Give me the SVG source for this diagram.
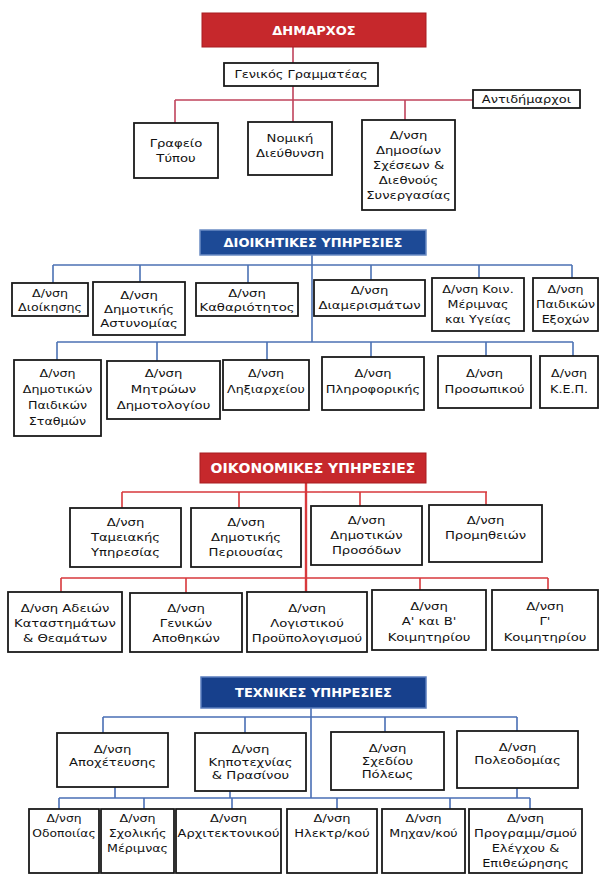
<svg xmlns="http://www.w3.org/2000/svg" width="600" height="874" viewBox="0 0 600 874">
<style>
.bg{fill:#ffffff}
.box{fill:#ffffff;stroke:#1a1a1a;stroke-width:1.8}
.t{font-family:"DejaVu Sans","Noto Sans",sans-serif;font-size:11px;fill:#111111;text-anchor:middle}
.tt{font-family:"DejaVu Sans","Noto Sans",sans-serif;font-size:13px;font-weight:bold;fill:#ffffff;text-anchor:middle}
.red{fill:#c6282c;stroke:#a81c20;stroke-width:1}
.navy{fill:#1d4a96;stroke:#6b8cc4;stroke-width:1.5}
.navy2{fill:#17408c;stroke:#5a7cbd;stroke-width:1.5}
.c{fill:none;stroke-width:1.6}
.c1{stroke:#c0445c}
.c2{stroke:#4c72b4}
.c3{stroke:#d8393c}
.c4{stroke:#4a6fb5}
</style>
<rect class="bg" x="0" y="0" width="600" height="874"/>

<g id="connectors">
  <g class="c c1">
    <path d="M293 47V63M293 86V122M175 100H473M175 100V123M405 100V120"/>
  </g>
  <g class="c c2">
    <path d="M312 255V342M53 265H572M53 265V283M140 265V282M248 265V283M371 265V280M479 265V278M572 265V278"/>
    <path d="M57 342H573M57 342V360M157 342V361M267 342V360M371 342V357M486 342V356M573 342V356"/>
  </g>
  <g class="c c3">
    <path d="M306 483V592" stroke-width="2.4"/>
    <path d="M122 492H487M122 492V508M239 492V508M360 492V506M486 492V505"/>
    <path d="M61 578H548M61 578V592M186 578V593M420 578V590M548 578V590"/>
  </g>
  <g class="c c4">
    <path d="M311 708V798M103 717H517M103 717V733M245 717V733M385 717V732M517 717V731"/>
    <path d="M115 787V798M230 791V798M517 788V798"/>
    <path d="M59 798H530M59 798V809M144 798V809M232 798V809M337 798V809M450 798V809M530 798V809"/>
  </g>
</g>

<!-- Section 1 -->
<g id="dimarxos"><rect class="red" x="202" y="13" width="224" height="34"/><text class="tt" x="314" y="35">ΔΗΜΑΡΧΟΣ</text></g>
<g id="gen-gram"><rect class="box" x="224" y="63" width="154" height="23"/><text class="t" transform="translate(301 0) scale(1.18 1)"><tspan x="0" y="78">Γενικός Γραμματέας</tspan></text></g>
<g id="antidimarxoi"><rect class="box" x="473" y="90" width="107" height="18"/><text class="t" transform="translate(526.5 0) scale(1.18 1)"><tspan x="0" y="103">Αντιδήμαρχοι</tspan></text></g>
<g id="grafeio-typou"><rect class="box" x="134" y="123" width="84" height="55"/><text class="t" transform="translate(176 0) scale(1.2 1)"><tspan x="0" y="147">Γραφείο</tspan><tspan x="0" y="162">Τύπου</tspan></text></g>
<g id="nomiki"><rect class="box" x="248" y="122" width="84" height="53"/><text class="t" transform="translate(290 0) scale(1.2 1)"><tspan x="0" y="142">Νομική</tspan><tspan x="0" y="157">Διεύθυνση</tspan></text></g>
<g id="dimosion-sxeseon"><rect class="box" x="362" y="120" width="93" height="90"/><text class="t" transform="translate(408.5 0) scale(1.2 1)"><tspan x="0" y="139">Δ/νση</tspan><tspan x="0" y="154">Δημοσίων</tspan><tspan x="0" y="169">Σχέσεων &amp;</tspan><tspan x="0" y="184">Διεθνούς</tspan><tspan x="0" y="199">Συνεργασίας</tspan></text></g>

<!-- Section 2 -->
<g id="dioikitikes"><rect class="navy" x="200" y="230" width="226" height="25"/><text class="tt" x="313" y="247">ΔΙΟΙΚΗΤΙΚΕΣ ΥΠΗΡΕΣΙΕΣ</text></g>
<g id="dioikisis"><rect class="box" x="12" y="283" width="76" height="33"/><text class="t" transform="translate(50 0) scale(1.15 1)"><tspan x="0" y="297">Δ/νση</tspan><tspan x="0" y="311">Διοίκησης</tspan></text></g>
<g id="astynomias"><rect class="box" x="93" y="282" width="92" height="53"/><text class="t" transform="translate(139 0) scale(1.2 1)"><tspan x="0" y="299">Δ/νση</tspan><tspan x="0" y="313">Δημοτικής</tspan><tspan x="0" y="327">Αστυνομίας</tspan></text></g>
<g id="kathariotitos"><rect class="box" x="196" y="283" width="102" height="33"/><text class="t" transform="translate(247 0) scale(1.2 1)"><tspan x="0" y="297">Δ/νση</tspan><tspan x="0" y="311">Καθαριότητος</tspan></text></g>
<g id="diamerismaton"><rect class="box" x="314" y="280" width="111" height="36"/><text class="t" transform="translate(369.5 0) scale(1.2 1)"><tspan x="0" y="294">Δ/νση</tspan><tspan x="0" y="309">Διαμερισμάτων</tspan></text></g>
<g id="koin-merimnas"><rect class="box" x="432" y="278" width="92" height="53"/><text class="t" transform="translate(478 0) scale(1.15 1)"><tspan x="0" y="293">Δ/νση Κοιν.</tspan><tspan x="0" y="308">Μέριμνας</tspan><tspan x="0" y="323">και Υγείας</tspan></text></g>
<g id="paidikon-exoxon"><rect class="box" x="533" y="278" width="65" height="53"/><text class="t" transform="translate(565.5 0) scale(1.15 1)"><tspan x="0" y="293">Δ/νση</tspan><tspan x="0" y="308">Παιδικών</tspan><tspan x="0" y="323">Εξοχών</tspan></text></g>
<g id="paidikon-stathmon"><rect class="box" x="14" y="360" width="87" height="76"/><text class="t" transform="translate(57.5 0) scale(1.15 1)"><tspan x="0" y="377">Δ/νση</tspan><tspan x="0" y="393">Δημοτικών</tspan><tspan x="0" y="409">Παιδικών</tspan><tspan x="0" y="425">Σταθμών</tspan></text></g>
<g id="mitroon"><rect class="box" x="107" y="361" width="113" height="58"/><text class="t" transform="translate(163.5 0) scale(1.2 1)"><tspan x="0" y="377">Δ/νση</tspan><tspan x="0" y="393">Μητρώων</tspan><tspan x="0" y="409">Δημοτολογίου</tspan></text></g>
<g id="lixiarxeiou"><rect class="box" x="223" y="360" width="86" height="50"/><text class="t" transform="translate(266 0) scale(1.15 1)"><tspan x="0" y="377">Δ/νση</tspan><tspan x="0" y="393">Ληξιαρχείου</tspan></text></g>
<g id="pliroforikis"><rect class="box" x="322" y="357" width="102" height="53"/><text class="t" transform="translate(373 0) scale(1.18 1)"><tspan x="0" y="377">Δ/νση</tspan><tspan x="0" y="393">Πληροφορικής</tspan></text></g>
<g id="prosopikou"><rect class="box" x="438" y="356" width="93" height="52"/><text class="t" transform="translate(484.5 0) scale(1.18 1)"><tspan x="0" y="377">Δ/νση</tspan><tspan x="0" y="393">Προσωπικού</tspan></text></g>
<g id="kep"><rect class="box" x="540" y="356" width="58" height="52"/><text class="t" transform="translate(569 0) scale(1.15 1)"><tspan x="0" y="377">Δ/νση</tspan><tspan x="0" y="393">Κ.Ε.Π.</tspan></text></g>

<!-- Section 3 -->
<g id="oikonomikes"><rect class="red" x="200" y="453" width="226" height="30"/><text class="tt" x="313" y="473" style="font-size:14px">ΟΙΚΟΝΟΜΙΚΕΣ ΥΠΗΡΕΣΙΕΣ</text></g>
<g id="tameiakis"><rect class="box" x="70" y="508" width="111" height="59"/><text class="t" transform="translate(125.5 0) scale(1.2 1)"><tspan x="0" y="526">Δ/νση</tspan><tspan x="0" y="541">Ταμειακής</tspan><tspan x="0" y="556">Υπηρεσίας</tspan></text></g>
<g id="periousias"><rect class="box" x="191" y="508" width="110" height="59"/><text class="t" transform="translate(246 0) scale(1.2 1)"><tspan x="0" y="526">Δ/νση</tspan><tspan x="0" y="541">Δημοτικής</tspan><tspan x="0" y="556">Περιουσίας</tspan></text></g>
<g id="prosodon"><rect class="box" x="311" y="506" width="111" height="59"/><text class="t" transform="translate(366.5 0) scale(1.2 1)"><tspan x="0" y="524">Δ/νση</tspan><tspan x="0" y="539">Δημοτικών</tspan><tspan x="0" y="554">Προσόδων</tspan></text></g>
<g id="promitheion"><rect class="box" x="429" y="505" width="113" height="57"/><text class="t" transform="translate(485.5 0) scale(1.2 1)"><tspan x="0" y="524">Δ/νση</tspan><tspan x="0" y="539">Προμηθειών</tspan></text></g>
<g id="adeion"><rect class="box" x="8" y="592" width="114" height="60"/><text class="t" transform="translate(65 0) scale(1.2 1)"><tspan x="0" y="612">Δ/νση Αδειών</tspan><tspan x="0" y="627">Καταστημάτων</tspan><tspan x="0" y="642">&amp; Θεαμάτων</tspan></text></g>
<g id="apothikon"><rect class="box" x="130" y="593" width="112" height="59"/><text class="t" transform="translate(186 0) scale(1.2 1)"><tspan x="0" y="612">Δ/νση</tspan><tspan x="0" y="627">Γενικών</tspan><tspan x="0" y="642">Αποθηκών</tspan></text></g>
<g id="logistikou"><rect class="box" x="247" y="592" width="120" height="60"/><text class="t" transform="translate(307 0) scale(1.2 1)"><tspan x="0" y="612">Δ/νση</tspan><tspan x="0" y="627">Λογιστικού</tspan><tspan x="0" y="642">Προϋπολογισμού</tspan></text></g>
<g id="koimitiriou-ab"><rect class="box" x="372" y="590" width="114" height="60"/><text class="t" transform="translate(429 0) scale(1.2 1)"><tspan x="0" y="610">Δ/νση</tspan><tspan x="0" y="625">Α' και Β'</tspan><tspan x="0" y="641">Κοιμητηρίου</tspan></text></g>
<g id="koimitiriou-g"><rect class="box" x="492" y="590" width="106" height="60"/><text class="t" transform="translate(545 0) scale(1.2 1)"><tspan x="0" y="610">Δ/νση</tspan><tspan x="0" y="625">Γ'</tspan><tspan x="0" y="641">Κοιμητηρίου</tspan></text></g>

<!-- Section 4 -->
<g id="texnikes"><rect class="navy2" x="201" y="677" width="225" height="31"/><text class="tt" x="313.5" y="697">ΤΕΧΝΙΚΕΣ ΥΠΗΡΕΣΙΕΣ</text></g>
<g id="apoxeteusis"><rect class="box" x="57" y="733" width="111" height="54"/><text class="t" transform="translate(112.5 0) scale(1.2 1)"><tspan x="0" y="753">Δ/νση</tspan><tspan x="0" y="766">Αποχέτευσης</tspan></text></g>
<g id="kipotexnias"><rect class="box" x="195" y="733" width="111" height="58"/><text class="t" transform="translate(250.5 0) scale(1.2 1)"><tspan x="0" y="753">Δ/νση</tspan><tspan x="0" y="766">Κηποτεχνίας</tspan><tspan x="0" y="779">&amp; Πρασίνου</tspan></text></g>
<g id="sxediou-poleos"><rect class="box" x="331" y="732" width="113" height="58"/><text class="t" transform="translate(387.5 0) scale(1.2 1)"><tspan x="0" y="752">Δ/νση</tspan><tspan x="0" y="765">Σχεδίου</tspan><tspan x="0" y="778">Πόλεως</tspan></text></g>
<g id="poleodomias"><rect class="box" x="457" y="731" width="121" height="57"/><text class="t" transform="translate(517.5 0) scale(1.2 1)"><tspan x="0" y="751">Δ/νση</tspan><tspan x="0" y="764">Πολεοδομίας</tspan></text></g>
<g id="odopoiias"><rect class="box" x="29" y="809" width="70" height="64"/><text class="t" transform="translate(64 0) scale(1.12 1)"><tspan x="0" y="822">Δ/νση</tspan><tspan x="0" y="837">Οδοποιίας</tspan></text></g>
<g id="sxolikis"><rect class="box" x="101" y="809" width="73" height="64"/><text class="t" transform="translate(137.5 0) scale(1.15 1)"><tspan x="0" y="822">Δ/νση</tspan><tspan x="0" y="837">Σχολικής</tspan><tspan x="0" y="852">Μέριμνας</tspan></text></g>
<g id="arxitektonikou"><rect class="box" x="176" y="809" width="105" height="64"/><text class="t" transform="translate(228.5 0) scale(1.18 1)"><tspan x="0" y="822">Δ/νση</tspan><tspan x="0" y="837">Αρχιτεκτονικού</tspan></text></g>
<g id="ilektr"><rect class="box" x="287" y="809" width="90" height="64"/><text class="t" transform="translate(332 0) scale(1.18 1)"><tspan x="0" y="822">Δ/νση</tspan><tspan x="0" y="837">Ηλεκτρ/κού</tspan></text></g>
<g id="mixan"><rect class="box" x="382" y="809" width="83" height="64"/><text class="t" transform="translate(423.5 0) scale(1.15 1)"><tspan x="0" y="822">Δ/νση</tspan><tspan x="0" y="837">Μηχαν/κού</tspan></text></g>
<g id="programm"><rect class="box" x="469" y="809" width="113" height="64"/><text class="t" transform="translate(525.5 0) scale(1.18 1)"><tspan x="0" y="822">Δ/νση</tspan><tspan x="0" y="837">Προγραμμ/σμού</tspan><tspan x="0" y="852">Ελέγχου &amp;</tspan><tspan x="0" y="867">Επιθεώρησης</tspan></text></g>
</svg>
